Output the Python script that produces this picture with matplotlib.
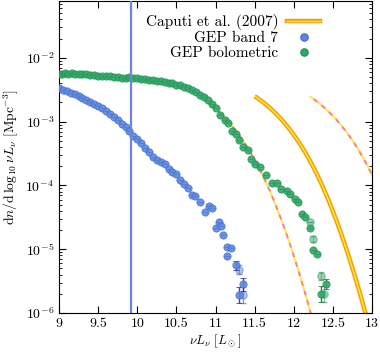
import numpy as np
import matplotlib
matplotlib.use("Agg")
import matplotlib.pyplot as plt
from matplotlib.lines import Line2D
from matplotlib.ticker import FixedLocator, LogLocator, NullFormatter

plt.rcParams.update({
    "font.family": "serif",
    "font.serif": ["cmr10"],
    "mathtext.fontset": "cm",
    "axes.formatter.use_mathtext": True,
    "axes.unicode_minus": False,
    "font.size": 10,
    "xtick.direction": "in",
    "ytick.direction": "in",
    "xtick.top": True,
    "ytick.right": True,
})

BLUE, BLUE_E, BLUE_ERR = "#5b87e2", "#4a72cc", "#2b2c80"
GREEN, GREEN_E, GREEN_ERR = "#2fa865", "#27935a", "#1c6b3c"
VLINE = "#6d86dc"
ORANGE, YELLOW, SALMON = "#f5a100", "#ffe94a", "#f4887a"

# GEP band 7: log10 nu L_nu, log10 dn/dlog
band7_x = [9.00, 9.05, 9.10, 9.15, 9.20, 9.25, 9.30, 9.35, 9.40, 9.45,
           9.50, 9.55, 9.60, 9.65, 9.70, 9.75, 9.80, 9.85, 9.90, 9.95,
           10.00, 10.05, 10.10, 10.15, 10.20, 10.25, 10.30, 10.35, 10.40, 10.45,
           10.50, 10.55, 10.60, 10.65, 10.70, 10.74, 10.80, 10.86, 10.92, 10.95,
           11.00, 11.04, 11.07, 11.10, 11.15, 11.20, 11.15, 11.26, 11.35, 11.30]
band7_logy = [-2.47, -2.50, -2.52, -2.55, -2.57, -2.60, -2.63, -2.66, -2.69, -2.73,
              -2.76, -2.79, -2.83, -2.88, -2.92, -2.98, -3.04, -3.09, -3.15, -3.22,
              -3.27, -3.34, -3.42, -3.47, -3.55, -3.60, -3.64, -3.66, -3.74, -3.79,
              -3.82, -3.91, -3.97, -4.04, -4.15, -4.16, -4.26, -4.42, -4.32, -4.36,
              -4.67, -4.58, -4.63, -4.78, -4.96, -4.98, -5.11, -5.25, -5.55, -5.72]
band7_err = [0] * 47 + [0.07, 0.10, 0.12]
# fainter overlapping measurements
band7_lx = [11.30, 11.35]
band7_ly = [-5.32, -5.72]
band7_lerr = [0.07, 0.12]

# GEP bolometric
bol_x = [9.00, 9.04, 9.08, 9.12, 9.16, 9.20, 9.25, 9.30, 9.35, 9.40,
         9.45, 9.50, 9.55, 9.60, 9.65, 9.70, 9.75, 9.80, 9.85, 9.90,
         9.95, 10.00, 10.05, 10.10, 10.15, 10.20, 10.25, 10.30, 10.35, 10.40,
         10.45, 10.50, 10.55, 10.60, 10.65, 10.70, 10.75, 10.80, 10.85, 10.90,
         10.95, 11.00, 11.06, 11.12, 11.16, 11.21, 11.26, 11.30, 11.35, 11.41,
         11.45, 11.50, 11.57, 11.65, 11.72, 11.78, 11.84, 11.91, 11.95, 12.01,
         12.05, 12.11, 12.15, 12.21, 12.25, 12.30, 12.41, 12.35]
bol_logy = [-2.25, -2.25, -2.24, -2.25, -2.24, -2.25, -2.25, -2.26, -2.26, -2.27,
            -2.27, -2.28, -2.28, -2.29, -2.29, -2.30, -2.30, -2.31, -2.32, -2.30,
            -2.32, -2.32, -2.33, -2.33, -2.34, -2.35, -2.36, -2.37, -2.38, -2.39,
            -2.40, -2.42, -2.43, -2.45, -2.47, -2.50, -2.54, -2.58, -2.62, -2.66,
            -2.72, -2.79, -2.89, -2.97, -3.02, -3.14, -3.20, -3.28, -3.39, -3.44,
            -3.58, -3.67, -3.71, -3.83, -3.96, -3.96, -4.05, -4.09, -4.14, -4.22,
            -4.26, -4.45, -4.50, -4.66, -5.01, -5.08, -5.55, -5.70]
bol_err = [0] * 66 + [0.08, 0.12]
bol_lx = [12.21, 12.25, 12.35, 12.39]
bol_ly = [-4.57, -4.84, -5.42, -5.70]
bol_lerr = [0.0, 0.04, 0.07, 0.12]

# Caputi et al. (2007)
cap_x = [11.50, 11.55, 11.60, 11.65, 11.70, 11.75, 11.80, 11.85, 11.90, 11.95,
         12.00, 12.05, 12.10, 12.15, 12.20, 12.25, 12.30, 12.35, 12.40, 12.45,
         12.50, 12.55, 12.60, 12.65, 12.70, 12.75, 12.80, 12.85, 12.90, 12.95]
cap_logy = [-2.600, -2.642, -2.687, -2.737, -2.790, -2.848, -2.910, -2.976,
            -3.048, -3.124, -3.206, -3.294, -3.388, -3.489, -3.596, -3.711,
            -3.834, -3.964, -4.103, -4.249, -4.404, -4.566, -4.737, -4.915,
            -5.102, -5.296, -5.499, -5.709, -5.928, -6.154]
# dashed curves: same model shifted by -/+ 0.7 dex in luminosity
DEX_SHIFT = 0.7

CUT_L = 9.92


def lin(v):
    return 10 ** np.asarray(v, dtype=float)


def yerr(logy, err):
    logy = np.asarray(logy, dtype=float); err = np.asarray(err, dtype=float)
    y = 10 ** logy
    return [y - 10 ** (logy - err), 10 ** (logy + err) - y]


def dashed_pair(ax, x, logy):
    ax.plot(x, lin(logy), color=YELLOW, lw=1.5, ls=(0, (2.4, 2.4)), zorder=1)
    ax.plot(x, lin(logy), color=SALMON, lw=1.5, ls=(2.4, (2.4, 2.4)), zorder=1)


fig = plt.figure(figsize=(3.8, 3.54), dpi=100)
ax = fig.add_axes([59 / 380, 1 - 313 / 354, 313 / 380, 312 / 354])
ax.set_yscale("log")

cx = np.array(cap_x)
dashed_pair(ax, cx - DEX_SHIFT, cap_logy)
dashed_pair(ax, cx + DEX_SHIFT, cap_logy)
ax.plot(cap_x, lin(cap_logy), color=ORANGE, lw=3.2, zorder=1,
        solid_capstyle="butt")
ax.plot(cap_x, lin(cap_logy), color=YELLOW, lw=1.0, zorder=1)

# faint overlapping points
ax.errorbar(band7_lx, lin(band7_ly), yerr=yerr(band7_ly, band7_lerr), fmt="o",
            ms=5.2, color=BLUE, mec=BLUE_E, ecolor=BLUE_ERR, capsize=2,
            elinewidth=1, alpha=0.45, zorder=2)
ax.errorbar(bol_lx, lin(bol_ly), yerr=yerr(bol_ly, bol_lerr), fmt="o",
            ms=5.2, color=GREEN, mec=GREEN_E, ecolor=GREEN_ERR, capsize=2,
            elinewidth=1, alpha=0.45, zorder=2)

ax.errorbar(bol_x, lin(bol_logy), yerr=yerr(bol_logy, bol_err), fmt="o",
            ms=5.2, color=GREEN, mec=GREEN_E, mew=0.6, ecolor=GREEN_ERR,
            capsize=2, elinewidth=1, alpha=0.9, zorder=3)
ax.errorbar(band7_x, lin(band7_logy), yerr=yerr(band7_logy, band7_err), fmt="o",
            ms=5.2, color=BLUE, mec=BLUE_E, mew=0.6, ecolor=BLUE_ERR,
            capsize=2, elinewidth=1, alpha=0.9, zorder=3)

ax.axvline(CUT_L, color=VLINE, lw=1.6, zorder=4)

ax.set_xlim(9, 13)
ax.set_ylim(1e-6, 0.078)
xt = [9, 9.5, 10, 10.5, 11, 11.5, 12, 12.5, 13]
ax.xaxis.set_major_locator(FixedLocator(xt))
ax.set_xticklabels(["9", "9.5", "10", "10.5", "11", "11.5", "12", "12.5", "13"])
ax.yaxis.set_major_locator(LogLocator(base=10, numticks=10))
ax.yaxis.set_minor_locator(LogLocator(base=10, subs=np.arange(2, 10), numticks=20))
ax.yaxis.set_minor_formatter(NullFormatter())
ax.tick_params(which="major", length=5, width=0.8)
ax.tick_params(which="minor", length=2.5, width=0.6)

ax.set_xlabel(r"$\nu L_\nu$ [$L_\odot$]", fontsize=9.3, labelpad=2)
ax.set_ylabel(r"$\mathrm{d}n/\mathrm{d}\,\log_{10}\nu L_\nu$ [Mpc$^{-3}$]",
              fontsize=9.8, labelpad=3)

h_cap = (Line2D([], [], color=ORANGE, lw=3.2), Line2D([], [], color=YELLOW, lw=1.0))
h_b7 = Line2D([], [], ls="none", marker="o", ms=5.2, color=BLUE, mec=BLUE_E)
h_bol = Line2D([], [], ls="none", marker="o", ms=5.2, color=GREEN, mec=GREEN_E)
ax.legend([h_cap, h_b7, h_bol],
          ["Caputi et al. (2007)", "GEP band 7", "GEP bolometric"],
          loc="upper right", bbox_to_anchor=(0.835, 0.958), frameon=False,
          markerfirst=False, borderpad=0, borderaxespad=0, handlelength=2.2,
          handletextpad=0.55, labelspacing=0.08, numpoints=1, fontsize=11)

fig.savefig("out.png", dpi=100)
